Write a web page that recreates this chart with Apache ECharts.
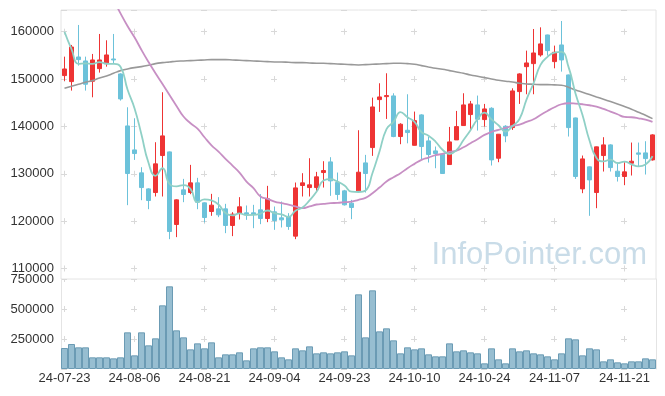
<!DOCTYPE html>
<html><head><meta charset="utf-8">
<script src="https://cdn.jsdelivr.net/npm/echarts@6/dist/echarts.min.js"></script>
<style>html,body{margin:0;padding:0;background:#fff}#c{width:665px;height:396px}</style>
</head><body><div id="c"></div>
<script>
const dates = ['24-07-23','24-07-24','24-07-25','24-07-26','24-07-29','24-07-30','24-07-31','24-08-01','24-08-02','24-08-05','24-08-06','24-08-07','24-08-08','24-08-09','24-08-12','24-08-13','24-08-14','24-08-16','24-08-19','24-08-20','24-08-21','24-08-22','24-08-23','24-08-26','24-08-27','24-08-28','24-08-29','24-08-30','24-09-02','24-09-03','24-09-04','24-09-05','24-09-06','24-09-09','24-09-10','24-09-11','24-09-12','24-09-13','24-09-19','24-09-20','24-09-23','24-09-24','24-09-25','24-09-26','24-09-27','24-09-30','24-10-02','24-10-04','24-10-07','24-10-08','24-10-10','24-10-11','24-10-14','24-10-15','24-10-16','24-10-17','24-10-18','24-10-21','24-10-22','24-10-23','24-10-24','24-10-25','24-10-28','24-10-29','24-10-30','24-10-31','24-11-01','24-11-04','24-11-05','24-11-06','24-11-07','24-11-08','24-11-11','24-11-12','24-11-13','24-11-14','24-11-15','24-11-18','24-11-19','24-11-20','24-11-21','24-11-22','24-11-25','24-11-26','24-11-27'];

const opens = [150730,149460,154660,153820,149530,152200,153260,154240,151080,140100,135040,130190,126810,126040,133850,134620,119290,126600,126040,128080,123860,122030,122590,122590,119080,121610,121750,121750,122380,120550,121960,120690,120900,116830,127520,127090,127090,130260,132510,128150,126390,123790,126390,132300,135530,145660,146290,146440,137860,139190,136010,142430,136940,134830,134130,131950,137150,140180,142500,144540,141440,143830,133280,140040,139750,147350,152620,153260,155090,159310,153680,157200,150870,141790,126810,131460,126040,133850,136100,130540,129420,132230,134410,134410,132930];
const closes = [152130,156770,154100,148900,154030,154030,155090,154030,145800,130050,134270,127090,124350,132090,138000,117810,124490,125620,128080,124000,120760,123370,121330,119080,121470,123020,121470,121470,120550,124700,120130,120270,118870,127020,128080,127660,129350,130680,128500,125620,123440,122880,130330,130050,144110,146220,146510,137860,140460,138700,141220,135750,134060,134270,130050,136730,139960,144540,144750,141510,143690,132930,138350,138000,147490,151080,153400,155510,157420,156000,155650,154030,139750,129420,133140,128710,135680,136100,131310,129420,130400,132650,134130,133210,138210];
const lows = [149600,147560,152840,147560,146150,151360,152620,153330,145450,123370,132930,124420,122520,125200,125200,116190,116620,124000,125690,122520,119710,121120,120840,117460,116830,120340,120270,118510,119360,119780,118160,118660,118160,116190,125200,125200,126180,127090,125340,124490,123300,120410,126390,126040,133780,143060,141580,137720,136240,136430,135960,133070,132370,131170,130050,131950,137150,140180,139050,139120,139960,131740,132440,136660,139260,144750,146790,146790,154730,154950,152270,151570,137860,128920,125900,121120,122730,130470,130470,128360,127590,129630,131530,129840,132790];
const highs = [154730,157200,161420,154730,155300,159520,158180,159520,151220,144040,141720,131380,126950,136660,147210,134700,124600,128920,131880,129140,123960,125760,125060,123650,121890,125060,123300,123440,125690,127450,123090,124140,121680,128150,130120,133280,130400,132650,133500,130260,126600,124490,139190,133990,146080,149110,151220,147000,140670,146790,143130,142570,137790,135750,134200,139890,143270,147000,145380,146510,144750,144040,138400,140250,148050,151220,156000,160570,160920,159380,157060,162260,150950,141860,133850,131530,135750,137720,136240,132440,132440,136590,136590,136870,138350];
const volumes = [175000,208300,180500,180500,97200,97200,97200,88800,97200,305500,113800,305500,197200,255500,530500,688900,322200,263800,163800,213800,172200,222200,97200,122200,122200,138900,72200,172200,180500,180500,147200,97200,80500,172200,155500,188800,130500,138900,130500,138900,147200,113800,622200,263800,655500,313800,338900,238900,130500,180500,163800,172200,122200,105500,105500,213800,147200,155500,138900,130500,47200,172200,80500,47200,172200,147200,155500,130500,122200,105500,80500,130500,255500,247200,113800,172200,163800,63900,80500,55500,47200,63900,63900,88800,80500];
const ma5 = [160000,156300,153200,153300,153190,153570,153230,153210,152600,147800,143850,138250,132310,129570,131160,127870,127350,127600,126800,124000,124590,124370,123510,121710,121200,121650,121270,121300,121590,122240,121670,121430,120910,122200,122880,124380,126190,128560,128850,128360,127520,126220,126150,126460,130160,134720,139440,140950,143030,141950,140950,138790,138040,136800,135070,134170,135010,137110,139210,141500,142890,141480,140250,138900,140090,141570,145660,149090,152980,154680,155590,155720,152570,146970,142400,137010,133340,132610,132990,132240,132580,131980,131580,131960,133720];
const ma20 = [186300,183500,180700,177900,175100,172300,169500,166700,163880,161200,158810,156140,153610,151220,148970,146650,144330,142080,140670,139540,137710,136000,134690,133140,131740,130260,128360,126950,125200,124700,124140,123790,123510,123090,122730,123090,123510,123650,123790,123860,124000,124100,124500,124910,125900,127090,128360,129280,130120,131170,132090,132930,133420,133920,134200,134620,134900,135600,136450,137290,138210,138840,139260,139680,140100,140390,140950,141510,142430,143270,144040,144680,144890,144820,144680,144470,144180,143690,143130,142570,142000,141930,141720,141440,140950];
const ma60 = [148050,148480,148900,149320,149670,150230,150660,151220,151780,152130,152410,152620,152910,153260,153470,153610,153750,153820,153890,153960,154030,154100,154100,154100,154030,153960,153890,153820,153750,153680,153610,153610,153540,153470,153470,153400,153330,153330,153260,153190,153120,153050,152980,153050,153120,153190,153260,153330,153330,153260,153120,152840,152550,152270,152060,151780,151500,151220,150870,150580,150300,150020,149740,149530,149390,149110,148970,148900,148830,148830,148760,148690,148260,147700,147210,146720,146220,145730,145240,144750,144190,143620,142990,142360,141650];

const FONT = '"Liberation Sans", Arial, sans-serif';
const Y_MIN = 107780, Y_MAX = 164580, Y_STEP = 10000;
const V_MAX = 750000, V_STEP = 250000;
const G1H = 269, G2H = 90;
const CAT_W = 595 / dates.length;
// "+" marks at gridline crossings built from dashed split lines
const spY = Y_STEP * G1H / (Y_MAX - Y_MIN);
const firstY = (Y_MAX - Math.floor(Y_MAX / Y_STEP) * Y_STEP) * G1H / (Y_MAX - Y_MIN);
const offY = ((spY - (firstY - 3)) % spY + spY) % spY;
const spV = V_STEP * G2H / V_MAX;
const spX = CAT_W * 10;
const cross = '#d9d9d9';

const chart = echarts.init(document.getElementById('c'));
chart.setOption({
  animation: false,
  backgroundColor: '#fff',
  textStyle: { fontFamily: FONT },
  graphic: [{
    type: 'text', right: 18, top: 240, z: 0,
    style: { text: 'InfoPointer.com', font: '31px ' + FONT, fill: '#c9dce8' }
  }],
  grid: [
    { left: 61, right: 9, top: 10, height: G1H, show: true, borderColor: '#e4e4e4', borderWidth: 1 },
    { left: 61, right: 9, top: 279, height: G2H, show: false }
  ],
  xAxis: [
    { type: 'category', gridIndex: 0, data: dates, boundaryGap: true,
      axisLine: { show: false }, axisTick: { show: false }, axisLabel: { show: false },
      splitLine: { show: true, interval: 9, alignWithLabel: true,
        lineStyle: { color: cross, width: 1, type: [6, spY - 6], dashOffset: offY } } },
    { type: 'category', gridIndex: 1, data: dates, boundaryGap: true,
      axisLine: { show: false }, axisTick: { show: false },
      axisLabel: { interval: 9, margin: 3, color: '#333', fontSize: 13, fontFamily: FONT },
      splitLine: { show: true, interval: 9, alignWithLabel: true,
        lineStyle: { color: cross, width: 1, type: [6, spV - 6], dashOffset: 3 } } }
  ],
  yAxis: [
    { type: 'value', gridIndex: 0, min: Y_MIN, max: Y_MAX, splitNumber: 5, scale: true,
      axisLine: { show: false }, axisTick: { show: false },
      axisLabel: { margin: 7, color: '#333', fontSize: 13, fontFamily: FONT,
        formatter: v => (v % Y_STEP === 0 ? String(v) : '') },
      splitLine: { show: true, lineStyle: { color: cross, width: 1, type: [6, spX - 6], dashOffset: 0 } } },
    { type: 'value', gridIndex: 1, min: 0, max: V_MAX, interval: V_STEP,
      axisLine: { show: true, lineStyle: { color: '#e4e4e4' } }, axisTick: { show: false },
      axisLabel: { margin: 7, color: '#333', fontSize: 13, fontFamily: FONT,
        formatter: v => (v === 0 ? '' : String(v)) },
      splitLine: { show: true, lineStyle: { color: cross, width: 1, type: [6, spX - 6], dashOffset: 0 } } },
    { type: 'value', gridIndex: 1, position: 'right', min: 0, max: V_MAX, interval: V_STEP,
      axisLine: { show: true, lineStyle: { color: '#e4e4e4' } }, axisTick: { show: false },
      axisLabel: { show: false }, splitLine: { show: false } }
  ],
  series: [
    { type: 'candlestick', xAxisIndex: 0, yAxisIndex: 0, barWidth: 5,
      data: dates.map((d, i) => [opens[i], closes[i], lows[i], highs[i]]),
      itemStyle: { color: '#ee3434', color0: '#6cc2da', borderColor: '#ee3434', borderColor0: '#6cc2da', borderWidth: 1 } },
    { type: 'line', xAxisIndex: 0, yAxisIndex: 0, data: ma60, smooth: true, showSymbol: false,
      lineStyle: { color: '#999999', width: 1.6 } },
    { type: 'line', xAxisIndex: 0, yAxisIndex: 0, data: ma20, smooth: true, showSymbol: false,
      lineStyle: { color: '#c78fc4', width: 1.8 } },
    { type: 'line', xAxisIndex: 0, yAxisIndex: 0, data: ma5, smooth: true, showSymbol: false,
      lineStyle: { color: '#8fd0c6', width: 1.8 } },
    { type: 'bar', xAxisIndex: 1, yAxisIndex: 1, data: volumes, barCategoryGap: '0%',
      itemStyle: { color: '#97bed1', borderColor: '#6b9bb4', borderWidth: 1 } }
  ]
});
</script></body></html>
